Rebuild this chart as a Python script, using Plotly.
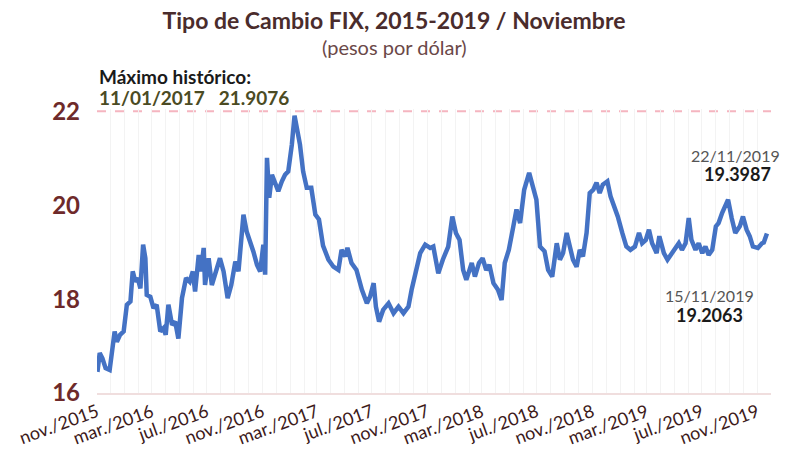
import plotly.graph_objects as go

dates = [
    "2015-11-02", "2015-11-07", "2015-11-13", "2015-11-20", "2015-11-29", "2015-12-04", "2015-12-10",
    "2015-12-15", "2015-12-22", "2015-12-30", "2016-01-06", "2016-01-14", "2016-01-19", "2016-01-25",
    "2016-01-30", "2016-02-05", "2016-02-11", "2016-02-16", "2016-02-19", "2016-02-27", "2016-03-05",
    "2016-03-12", "2016-03-20", "2016-03-27", "2016-04-01", "2016-04-07", "2016-04-15", "2016-04-22",
    "2016-04-29", "2016-05-07", "2016-05-16", "2016-05-24", "2016-05-31", "2016-06-05", "2016-06-13",
    "2016-06-18", "2016-06-24", "2016-06-27", "2016-07-05", "2016-07-12", "2016-07-21", "2016-07-30",
    "2016-08-07", "2016-08-16", "2016-08-24", "2016-09-02", "2016-09-09", "2016-09-20", "2016-09-27",
    "2016-10-05", "2016-10-12", "2016-10-20", "2016-10-27", "2016-11-03", "2016-11-07", "2016-11-11",
    "2016-11-16", "2016-11-22", "2016-11-29", "2016-12-06", "2016-12-14", "2016-12-21", "2016-12-28",
    "2017-01-05", "2017-01-11", "2017-01-17", "2017-01-23", "2017-01-30", "2017-02-07", "2017-02-17",
    "2017-02-26", "2017-03-06", "2017-03-15", "2017-03-27", "2017-04-07", "2017-04-18", "2017-04-25",
    "2017-05-03", "2017-05-08", "2017-05-17", "2017-05-28", "2017-06-09", "2017-06-20", "2017-06-27",
    "2017-07-05", "2017-07-10", "2017-07-17", "2017-07-26", "2017-08-07", "2017-08-18", "2017-08-29",
    "2017-09-09", "2017-09-20", "2017-09-27", "2017-10-09", "2017-10-16", "2017-10-27", "2017-11-07",
    "2017-11-14", "2017-11-25", "2017-12-05", "2017-12-17", "2017-12-26", "2018-01-03", "2018-01-11",
    "2018-01-19", "2018-01-26", "2018-02-07", "2018-02-14", "2018-02-23", "2018-03-03", "2018-03-11",
    "2018-03-18", "2018-03-27", "2018-04-06", "2018-04-14", "2018-04-21", "2018-04-30", "2018-05-10",
    "2018-05-17", "2018-05-25", "2018-06-03", "2018-06-14", "2018-06-23", "2018-06-30", "2018-07-08",
    "2018-07-18", "2018-07-26", "2018-08-04", "2018-08-14", "2018-08-21", "2018-08-28", "2018-09-05",
    "2018-09-12", "2018-09-19", "2018-09-27", "2018-10-04", "2018-10-11", "2018-10-19", "2018-10-26",
    "2018-11-03", "2018-11-10", "2018-11-17", "2018-11-24", "2018-12-04", "2018-12-11", "2018-12-20",
    "2018-12-27", "2019-01-06", "2019-01-15", "2019-01-24", "2019-02-03", "2019-02-12", "2019-02-19",
    "2019-02-27", "2019-03-06", "2019-03-13", "2019-03-23", "2019-03-29", "2019-04-08", "2019-04-16",
    "2019-04-25", "2019-05-04", "2019-05-11", "2019-05-18", "2019-05-26", "2019-06-02", "2019-06-08",
    "2019-06-17", "2019-06-24", "2019-07-02", "2019-07-09", "2019-07-16", "2019-07-24", "2019-08-01",
    "2019-08-07", "2019-08-15", "2019-08-22", "2019-08-28", "2019-09-05", "2019-09-13", "2019-09-23",
    "2019-09-30", "2019-10-08", "2019-10-15", "2019-10-22", "2019-11-02", "2019-11-11", "2019-11-15",
    "2019-11-22",
]
values = [
    16.45, 16.85, 16.74, 16.53, 16.49, 16.88, 17.31,
    17.09, 17.24, 17.31, 17.88, 17.95, 18.59, 18.37,
    18.45, 18.23, 19.16, 18.87, 18.09, 18.05, 17.81,
    17.88, 17.31, 17.38, 17.24, 17.88, 17.45, 17.52,
    17.16, 18.02, 18.45, 18.37, 18.59, 18.16, 18.94,
    18.59, 19.09, 18.30, 18.87, 18.30, 18.59, 18.87,
    18.59, 18.02, 18.30, 18.80, 18.59, 19.80, 19.44,
    19.23, 19.01, 18.73, 18.59, 19.16, 18.52, 21.01,
    20.16, 20.65, 20.44, 20.30, 20.51, 20.65, 20.72,
    21.29, 21.9076, 21.65, 21.29, 20.72, 20.37, 20.37,
    19.80, 19.70, 19.14, 18.84, 18.69, 18.62, 19.05,
    18.91, 19.09, 18.77, 18.62, 18.20, 17.91, 18.05,
    18.34, 17.84, 17.52, 17.77, 17.91, 17.70, 17.84,
    17.70, 17.84, 18.20, 18.69, 18.98, 19.16, 19.09,
    19.12, 18.55, 18.84, 19.12, 19.76, 19.41, 19.26,
    18.62, 18.41, 18.77, 18.48, 18.77, 18.87, 18.62,
    18.73, 18.34, 18.20, 17.98, 18.77, 19.05, 19.55,
    19.91, 19.62, 20.33, 20.69, 20.40, 20.12, 19.12,
    19.02, 18.62, 18.48, 19.19, 18.84, 18.98, 19.41,
    19.12, 18.84, 18.69, 19.05, 18.91, 19.41, 20.26,
    20.33, 20.48, 20.26, 20.44, 20.51, 20.19, 19.98,
    19.76, 19.41, 19.12, 19.05, 19.12, 19.41, 19.19,
    19.26, 19.48, 19.19, 18.98, 19.34, 18.98, 18.84,
    18.98, 19.12, 19.19, 19.05, 19.19, 19.73, 19.26,
    19.05, 19.19, 18.98, 19.12, 18.94, 19.05, 19.55,
    19.62, 19.84, 19.98, 20.12, 19.73, 19.41, 19.55,
    19.76, 19.48, 19.34, 19.12, 19.09, 19.19, 19.2063,
    19.3987,
]

tick_dates = ["2015-11-01", "2016-03-01", "2016-07-01", "2016-11-01", "2017-03-01",
              "2017-07-01", "2017-11-01", "2018-03-01", "2018-07-01", "2018-11-01",
              "2019-03-01", "2019-07-01", "2019-11-01"]
tick_labels = ["nov./2015", "mar./2016", "jul./2016", "nov./2016", "mar./2017",
               "jul./2017", "nov./2017", "mar./2018", "jul./2018", "nov./2018",
               "mar./2019", "jul./2019", "nov./2019"]
y_ticks = [16, 18, 20, 22]

max_value = 21.9076
max_date_label = "11/01/2017"
last_labels = [("22/11/2019", "19.3987"), ("15/11/2019", "19.2063")]

FONT = "Lato"

fig = go.Figure()
fig.add_trace(go.Scatter(
    x=dates, y=values, mode="lines",
    line=dict(color="#4472c4", width=4.5),
    hoverinfo="skip", showlegend=False,
))

fig.add_shape(type="line", xref="paper", x0=0, x1=1, yref="y", y0=22, y1=22,
              line=dict(color="#f5b5c0", width=2, dash="dash"), layer="below")

fig.update_layout(
    width=788, height=451,
    margin=dict(l=97, r=17, t=109, b=58),
    paper_bgcolor="white", plot_bgcolor="white",
    font=dict(family=FONT, color="#333333"),
    title=dict(text="<b>Tipo de Cambio FIX, 2015-2019 / Noviembre</b>",
               x=0.5, xanchor="center", y=1 - 21 / 451, yanchor="middle",
               font=dict(size=23, color="#4a2c2c", family=FONT)),
    xaxis=dict(
        range=["2015-11-01", "2019-12-01"],
        tickvals=tick_dates, ticktext=tick_labels, tickangle=-20,
        tickfont=dict(size=18, color="#3d1a1a", family=FONT),
        showgrid=True, gridcolor="#f3f3f3", gridwidth=1,
        minor=dict(tick0="2015-11-01", dtick="M1", showgrid=True, gridcolor="#f3f3f3"),
        showline=True, linecolor="#f0dede", linewidth=2,
        ticks="", zeroline=False, automargin=False,
    ),
    yaxis=dict(
        range=[16, 22.05], tickvals=y_ticks, ticktext=[f"<b>{v}</b>" for v in y_ticks],
        tickfont=dict(size=24, color="#6e2a2a", family=FONT),
        showgrid=False, zeroline=False, ticks="", ticklabelstandoff=16,
        automargin=False,
    ),
)


def note(text, x, y, size, color, xanchor="center"):
    fig.add_annotation(text=text, xref="paper", yref="paper", x=x, y=y,
                       xanchor=xanchor, yanchor="middle", showarrow=False,
                       font=dict(size=size, color=color, family=FONT))


note("(pesos por dólar)", (394 - 97) / 674, 1.218, 20, "#6b4848")
note("<b>Máximo histórico:</b>", 0, 1.116, 19, "#1a1a1a", xanchor="left")
note(f"<b>{max_date_label}   {max_value:.4f}</b>", 0, 1.042, 19, "#4b4b23", xanchor="left")
note(last_labels[0][0], 0.947, 0.838, 16, "#555555")
note(f"<b>{last_labels[0][1]}</b>", 0.950, 0.771, 18, "#1a1a1a")
note(last_labels[1][0], 0.909, 0.345, 16, "#555555")
note(f"<b>{last_labels[1][1]}</b>", 0.909, 0.275, 18, "#1a1a1a")

fig.write_html("out.html", config={"displayModeBar": False},
               post_script="document.body.style.margin='0';")
